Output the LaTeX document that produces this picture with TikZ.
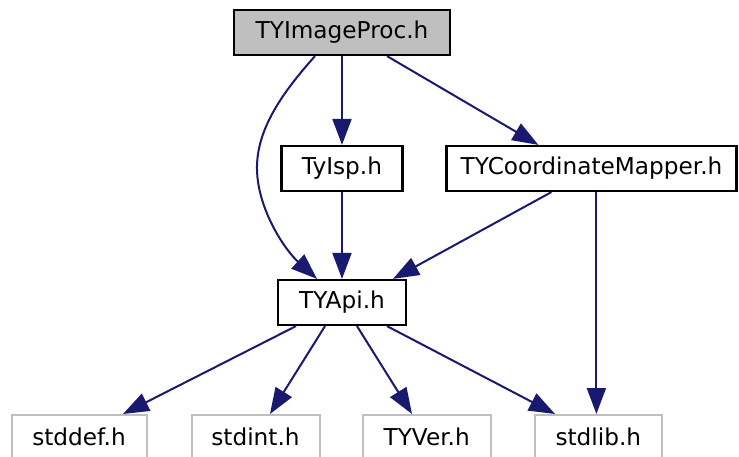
\documentclass[tikz,border=0pt]{standalone}
\usepackage{fontspec}
\setmainfont{DejaVu Sans}
\usetikzlibrary{arrows.meta,calc}
\definecolor{edgeblue}{HTML}{191970}
\definecolor{grayfill}{HTML}{BFBFBF}
\definecolor{grayline}{HTML}{BFBFBF}
\tikzset{
  base/.style={rectangle, draw=black, line width=2.2pt, inner sep=0pt, minimum height=45pt, font=\fontsize{23.2}{27}\selectfont, text=black},
  mainbox/.style={base, fill=grayfill},
  filebox/.style={base, fill=white},
  extbox/.style={base, draw=grayline, line width=2pt, fill=white, minimum height=44pt},
  dep/.style={draw=edgeblue, line width=2pt, -{Triangle[length=26pt,width=19pt]}},
}
\begin{document}
\begin{tikzpicture}[x=1pt,y=1pt]
\useasboundingbox (0,0) rectangle (739,-457);
\fill[white] (0,0) rectangle (739,-457);
\node[mainbox, minimum width=216pt] (proc) at (342,-32.5) {TYImageProc.h};
\node[filebox, minimum width=121pt] (isp) at (342,-168.5) {TyIsp.h};
\node[filebox, minimum width=290pt] (cm) at (591.5,-168.5) {TYCoordinateMapper.h};
\node[filebox, minimum width=128pt] (api) at (342,-302.5) {TYApi.h};
\node[extbox, minimum width=135pt] (stddef) at (79,-437) {stddef.h};
\node[extbox, minimum width=128pt] (stdint) at (255.5,-437) {stdint.h};
\node[extbox, minimum width=128pt] (tyver) at (426.7,-437) {TYVer.h};
\node[extbox, minimum width=127pt] (stdlib) at (598.3,-437) {stdlib.h};

\draw[dep] ($(proc.south)+(-27,0)$) .. controls (282,-93) and (256,-130) .. (257,-170)
  .. controls (258,-210) and (285,-250) .. ($(api.north)+(-25,0)$);
\draw[dep] (proc.south) -- (isp.north);
\draw[dep] ($(proc.south)+(45,0)$) -- ($(cm.north west)+(93,0)$);
\draw[dep] (isp.south) -- (api.north);
\draw[dep] ($(cm.south west)+(106,0)$) -- ($(api.north)+(51,0)$);
\coordinate (cmdown) at ($(cm.south west)+(151,0)$);
\draw[dep] (cmdown) -- (cmdown |- stdlib.north);
\draw[dep] ($(api.south)+(-46,0)$) -- ($(stddef.north)+(44,0)$);
\draw[dep] ($(api.south)+(-17,0)$) -- ($(stdint.north)+(14.5,0)$);
\draw[dep] ($(api.south)+(15,0)$) -- ($(tyver.north)+(-14.7,0)$);
\draw[dep] ($(api.south)+(45,0)$) -- ($(stdlib.north)+(-43.3,0)$);
\end{tikzpicture}
\end{document}
